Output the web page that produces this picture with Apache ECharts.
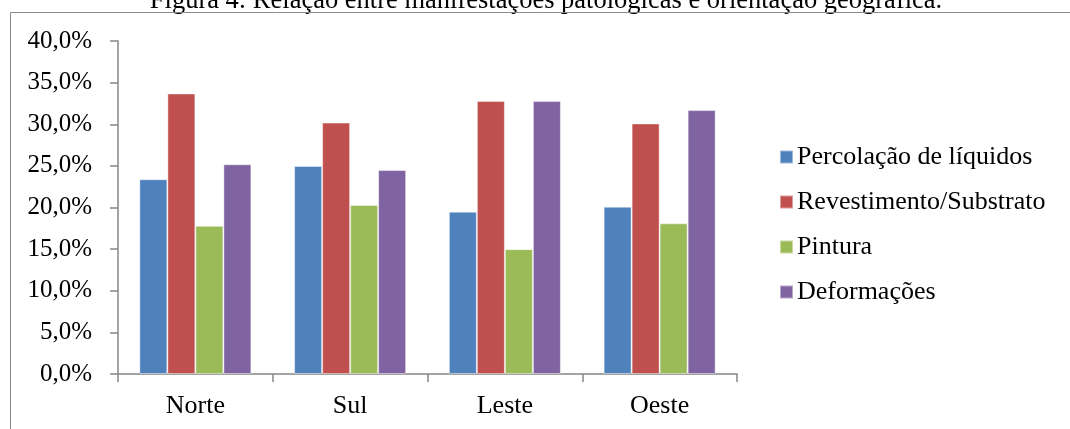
<!DOCTYPE html>
<html>
<head>
<meta charset="utf-8">
<script src="https://cdn.jsdelivr.net/npm/echarts@6/dist/echarts.min.js"></script>
<style>
  html, body { margin: 0; padding: 0; background: #fff; }
  #chart { width: 1070px; height: 429px; }
</style>
</head>
<body>
<div id="chart"></div>
<script>
// Orientation categories and share of each pathology (%)
const categories = ['Norte', 'Sul', 'Leste', 'Oeste'];
const seriesNames = ['Percolação de líquidos', 'Revestimento/Substrato', 'Pintura', 'Deformações'];
const percolacao = [23.4, 25.0, 19.5, 20.1];
const revestimento = [33.7, 30.2, 32.8, 30.1];
const pintura = [17.8, 20.3, 15.0, 18.1];
const deformacoes = [25.2, 24.5, 32.8, 31.7];
const colors = ['#4F81BD', '#C0504D', '#9BBB59', '#8064A2'];
const titleText = 'Figura 4: Relação entre manifestações patológicas e orientação geográfica.';

const font = '"Liberation Serif", "Times New Roman", serif';
const values = [percolacao, revestimento, pintura, deformacoes];

const chart = echarts.init(document.getElementById('chart'), null, { renderer: 'canvas' });
chart.setOption({
  backgroundColor: '#ffffff',
  animation: false,
  textStyle: { fontFamily: font, color: '#000' },
  graphic: [
    {
      type: 'text',
      x: 546,
      y: 1,
      silent: true,
      style: {
        text: titleText,
        font: '26.5px ' + font,
        fill: '#000',
        align: 'center',
        verticalAlign: 'middle'
      }
    },
    {
      type: 'polyline',
      shape: { points: [[10.5, 440], [10.5, 12.5], [1080, 12.5]] },
      style: { stroke: '#8a8a8a', lineWidth: 1, fill: null },
      silent: true
    }
  ],
  grid: { left: 118, right: 333, top: 41, bottom: 55, containLabel: false },
  legend: {
    orient: 'vertical',
    left: 779,
    top: 144,
    padding: 0,
    itemWidth: 13,
    itemHeight: 13,
    itemGap: 19,
    icon: 'rect',
    textStyle: { fontFamily: font, fontSize: 26, color: '#000', padding: [0, 0, 0, -1] },
    data: seriesNames
  },
  xAxis: {
    type: 'category',
    data: categories,
    axisLine: { lineStyle: { color: '#868686', width: 1.5 } },
    axisTick: { show: true, length: 8, lineStyle: { color: '#868686', width: 1.5 } },
    axisLabel: { margin: 19, fontFamily: font, fontSize: 26, color: '#000' }
  },
  yAxis: {
    type: 'value',
    min: 0,
    max: 40,
    interval: 5,
    splitLine: { show: false },
    axisLine: { show: true, lineStyle: { color: '#868686', width: 1.5 } },
    axisTick: { show: true, length: 8, lineStyle: { color: '#868686', width: 1.5 } },
    axisLabel: {
      margin: 26,
      fontFamily: font,
      fontSize: 25,
      color: '#000',
      formatter: v => v.toFixed(1).replace('.', ',') + '%'
    }
  },
  series: seriesNames.map((name, i) => ({
    name: name,
    type: 'bar',
    data: values[i],
    barGap: '0%',
    barCategoryGap: '27.6%',
    itemStyle: { color: colors[i], borderColor: 'rgba(255,255,255,0.45)', borderWidth: 1 }
  }))
});
</script>
</body>
</html>
